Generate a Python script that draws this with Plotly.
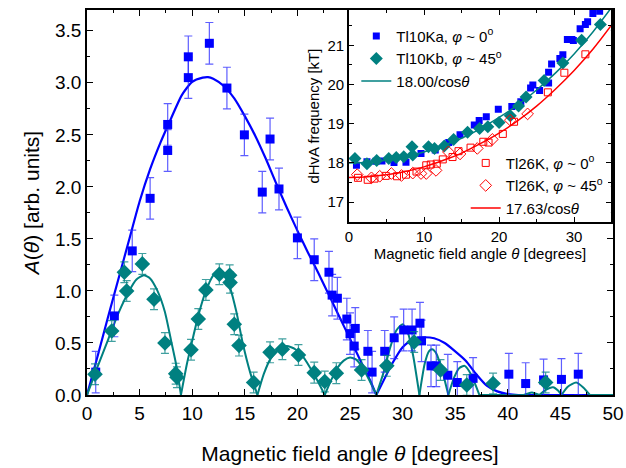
import plotly.graph_objects as go

# ---------------- main panel data ----------------
blue_theta = [0.83, 2.6, 4.3, 6.0, 7.67, 7.67, 9.63, 9.63, 11.63, 13.3, 14.96, 16.66, 17.4, 18.25,
              20.0, 21.6, 23.0, 23.3, 23.8, 24.7, 25.0, 25.4, 25.5, 26.7, 27.1, 28.3, 29.2, 30.1,
              30.9, 31.65, 31.8, 32.7, 33.2, 34.3, 35.2, 36.7, 40.1, 41.7, 43.4, 45.1, 46.7]
blue_A = [0.22, 0.76, 1.385, 1.89, 2.60, 2.35, 3.25, 3.05, 3.38, 2.95, 2.50, 1.95, 2.46, 1.98,
          1.51, 1.30, 1.18, 0.96, 0.93, 0.73, 0.59, 0.47, 0.64, 0.42, 0.22, 0.42, 0.55, 0.625,
          0.625, 0.69, 0.52, 0.28, 0.28, 0.19, 0.12, 0.16, 0.20, 0.11, 0.145, 0.15, 0.20]
blue_err = [0.2] * len(blue_theta)

teal_theta = [0.76, 2.35, 3.55, 3.77, 5.26, 6.37, 7.41, 8.43, 8.55, 9.89, 10.58, 11.3, 12.58,
              13.56, 13.6, 14.0, 14.45, 15.84, 17.4, 18.57, 20.1, 21.6, 22.6, 23.7, 26.1, 28.5,
              31.1, 33.6, 36.1, 38.6, 43.6]
teal_A = [0.20, 0.615, 1.18, 1.0, 1.26, 0.92, 0.50, 0.205, 0.17, 0.435, 0.73, 1.01, 1.16,
          1.15, 1.08, 0.68, 0.475, 0.12, 0.41, 0.44, 0.385, 0.215, 0.13, 0.21, 0.24, 0.28,
          0.51, 0.24, 0.096, 0.11, 0.12]
teal_err = [0.1] * len(teal_theta)

# fitted curves (None separates the lobes)
blue_fit_theta = [0, 1, 2, 3, 4, 5, 6, 7, 8, 9, 10, 11, 11.5, 12, 13, 14, 15, 16, 17, 18, 19, 20,
                  21, 22, 23, 24, 25, 26, 27, 27.5, None,
                  27.5, 28, 29, 30, 31, 32, 33, 34, 35, 36, 37, 38, 39, 40, 41, 42, 50]
blue_fit_A = [0, 0.37, 0.75, 1.12, 1.49, 1.86, 2.17, 2.43, 2.66, 2.88, 3.01, 3.05, 3.055, 3.04,
              2.97, 2.85, 2.68, 2.49, 2.27, 2.03, 1.80, 1.58, 1.37, 1.17, 0.96, 0.75, 0.54,
              0.33, 0.12, 0.0, None,
              0.0, 0.10, 0.30, 0.46, 0.54, 0.555, 0.545, 0.50, 0.42, 0.33, 0.20, 0.09, 0.035,
              0.01, 0.0, 0.0, 0.0]

teal_fit_theta = [0, 1, 2, 3, 4, 4.7, 5.4, 6, 6.7, 7.4, 8, 8.5, 8.93, None,
                  8.93, 9.5, 10, 10.6, 11.3, 12, 12.4, 13, 13.6, 14.2, 14.8, 15.5, 16.2, None,
                  16.2, 16.8, 17.4, 18.2, 19, 19.8, 20.6, 21.4, 22, 22.6, None,
                  22.6, 23.2, 23.8, 24.4, 25, 25.6, 26.2, 26.9, 27.5, None,
                  27.5, 28.2, 28.8, 29.4, 30, 30.5, 31, 31.6, None,
                  31.6, 32.1, 32.5, 32.8, 33.2, 33.8, 34.35, None,
                  34.35, 34.9, 35.4, 35.9, 36.5, 37.3, None,
                  37.3, 38, 40, 41.5, 42.3, 43.0, None,
                  43.0, 43.6, 44.3, 44.8, 45.1, None,
                  45.1, 45.7, 46.5, 47.2, 47.8, None,
                  47.8, 50]
teal_fit_A = [0, 0.27, 0.53, 0.79, 1.0, 1.11, 1.15, 1.12, 1.0, 0.8, 0.52, 0.28, 0, None,
              0, 0.3, 0.52, 0.77, 1.0, 1.15, 1.185, 1.15, 1.03, 0.8, 0.5, 0.22, 0, None,
              0, 0.2, 0.34, 0.44, 0.47, 0.44, 0.36, 0.23, 0.12, 0, None,
              0, 0.14, 0.26, 0.33, 0.36, 0.34, 0.26, 0.13, 0, None,
              0, 0.22, 0.45, 0.62, 0.68, 0.6, 0.38, 0, None,
              0, 0.3, 0.42, 0.44, 0.4, 0.22, 0, None,
              0, 0.17, 0.26, 0.28, 0.2, 0, None,
              0, 0.0, 0.0, 0.0, 0.025, 0, None,
              0, 0.05, 0.075, 0.04, 0, None,
              0, 0.08, 0.12, 0.07, 0, None,
              0, 0]

# ---------------- inset data ----------------
ka_theta = [1.0, 2.4, 3.6, 4.4, 6.0, 7.6, 9.6, 11.5, 13.3, 14.8, 16.7, 17.35, 18.3, 19.9, 21.7,
            22.9, 24.2, 24.5, 25.4, 26.6, 26.6, 27.0, 28.1, 28.5, 29.1, 29.7, 29.9, 30.8, 31.5,
            31.8, 32.5, 33.4]
ka_F = [17.94, 18.03, 18.04, 18.05, 18.01, 18.02, 18.24, 18.33, 18.52, 18.72, 18.97, 19.08,
        19.18, 19.37, 19.44, 19.56, 19.91, 19.99, 19.85, 20.04, 20.31, 20.52, 20.66, 20.76,
        21.15, 21.15, 21.12, 21.42, 21.53, 21.6, 21.81, 21.87]

kb_theta = [0.8, 2.4, 3.7, 5.3, 6.3, 7.3, 8.4, 8.5, 10.6, 11.4, 12.7, 13.95, 15.8, 17.4, 18.5,
            20.0, 21.5, 22.6, 23.6, 26.0, 28.5, 31.0, 33.5]
kb_F = [18.11, 17.98, 18.06, 18.11, 18.14, 18.16, 18.41, 18.2, 18.41, 18.37, 18.43, 18.6,
        18.78, 18.88, 18.92, 19.03, 19.2, 19.45, 19.68, 20.1, 20.55, 21.13, 21.53]

k26a_theta = [1.2, 2.5, 3.4, 4.9, 6.4, 7.6, 9.0, 10.3, 10.9, 11.7, 12.5, 13.8, 14.6, 16.2, 17.9,
              18.6, 20.5, 22.0, 26.5, 28.7, 31.5]
k26a_F = [17.62, 17.57, 17.6, 17.67, 17.66, 17.7, 17.78, 17.94, 17.96, 17.98, 18.09, 18.15,
          18.3, 18.39, 18.54, 18.52, 18.74, 19.05, 19.8, 20.3, 20.77]

k26b_theta = [1.1, 3.0, 4.1, 5.65, 7.0, 8.5, 9.6, 10.3, 11.6, 13.25, 14.8, 17.1, 19.1, 21.5, 23.8]
k26b_F = [17.7, 17.62, 17.66, 17.73, 17.68, 17.74, 17.73, 17.73, 17.81, 18.28, 18.23, 18.37,
          18.6, 19.09, 19.25]

fit_theta = [0, 2.5, 5, 7.5, 10, 12.5, 15, 17.5, 20, 22.5, 25, 27.5, 30, 32.5, 35]
fit18_F = [18.00, 18.02, 18.07, 18.16, 18.28, 18.44, 18.63, 18.87, 19.16, 19.48, 19.86, 20.29,
           20.78, 21.34, 21.97]
fit1763_F = [17.63, 17.65, 17.70, 17.78, 17.90, 18.06, 18.25, 18.49, 18.76, 19.08, 19.45,
             19.88, 20.36, 20.90, 21.52]

legend_names = ["Tl10Ka, <i>φ</i> ~ 0<sup>o</sup>", "Tl10Kb, <i>φ</i> ~ 45<sup>o</sup>",
                "18.00/cos<i>θ</i>", "Tl26K, <i>φ</i> ~ 0<sup>o</sup>",
                "Tl26K, <i>φ</i> ~ 45<sup>o</sup>", "17.63/cos<i>θ</i>"]

BLUE = "#0000ff"
TEAL = "#008080"
RED = "#ff0000"
FONT = "Liberation Sans, Arial, sans-serif"

fig = go.Figure()

# main panel
fig.add_trace(go.Scatter(x=blue_fit_theta, y=blue_fit_A, mode="lines", line=dict(color=BLUE, width=2.2, shape="spline", smoothing=0.6),
                         showlegend=False, connectgaps=False, hoverinfo="skip"))
fig.add_trace(go.Scatter(x=teal_fit_theta, y=teal_fit_A, mode="lines", line=dict(color=TEAL, width=2, shape="spline", smoothing=0.6),
                         showlegend=False, connectgaps=False, hoverinfo="skip"))
fig.add_trace(go.Scatter(x=blue_theta, y=blue_A, mode="markers",
                         marker=dict(symbol="square", size=9, color=BLUE),
                         error_y=dict(type="data", array=blue_err, color="rgba(40,40,255,0.75)", thickness=1.2, width=4),
                         showlegend=False))
fig.add_trace(go.Scatter(x=teal_theta, y=teal_A, mode="markers",
                         marker=dict(symbol="diamond", size=12, color=TEAL),
                         error_y=dict(type="data", array=teal_err, color="rgba(0,128,128,0.75)", thickness=1.2, width=4),
                         showlegend=False))

# inset
fig.add_trace(go.Scatter(x=ka_theta, y=ka_F, mode="markers", xaxis="x2", yaxis="y2",
                         marker=dict(symbol="square", size=7, color=BLUE),
                         name=legend_names[0], legend="legend"))
fig.add_trace(go.Scatter(x=kb_theta, y=kb_F, mode="markers", xaxis="x2", yaxis="y2",
                         marker=dict(symbol="diamond", size=10, color=TEAL),
                         name=legend_names[1], legend="legend"))
fig.add_trace(go.Scatter(x=fit_theta, y=fit18_F, mode="lines", xaxis="x2", yaxis="y2",
                         line=dict(color=TEAL, width=1.5, shape="spline"),
                         name=legend_names[2], legend="legend"))
fig.add_trace(go.Scatter(x=k26a_theta, y=k26a_F, mode="markers", xaxis="x2", yaxis="y2",
                         marker=dict(symbol="square-open", size=7, color=RED, line=dict(width=1)),
                         name=legend_names[3], legend="legend2"))
fig.add_trace(go.Scatter(x=k26b_theta, y=k26b_F, mode="markers", xaxis="x2", yaxis="y2",
                         marker=dict(symbol="diamond-open", size=9, color=RED, line=dict(width=1)),
                         name=legend_names[4], legend="legend2"))
fig.add_trace(go.Scatter(x=fit_theta, y=fit1763_F, mode="lines", xaxis="x2", yaxis="y2",
                         line=dict(color=RED, width=1.5, shape="spline"),
                         name=legend_names[5], legend="legend2"))

axis_common = dict(showline=True, linecolor="black", linewidth=1.5, mirror="allticks",
                   ticks="inside", tickcolor="black", showgrid=False, zeroline=False)

fig.update_layout(
    width=626, height=468,
    margin=dict(l=87, r=13, t=10, b=73, autoexpand=False),
    paper_bgcolor="white", plot_bgcolor="white",
    font=dict(family=FONT, color="black"),
    xaxis=dict(**axis_common, range=[0, 50], dtick=5, tick0=0, ticklen=6, tickwidth=1.3,
               minor=dict(dtick=2.5, ticklen=3, ticks="inside", tickcolor="black"),
               tickfont=dict(size=19), ticklabeloverflow="allow",
               title=dict(text="Magnetic field angle <i>θ</i> [degrees]", font=dict(size=21), standoff=24),
               domain=[0, 1]),
    yaxis=dict(**axis_common, range=[0, 3.7], dtick=0.5, tick0=0, ticklen=6, tickwidth=1.3,
               tickformat=".1f",
               minor=dict(dtick=0.25, ticklen=3, ticks="inside", tickcolor="black"),
               tickfont=dict(size=19),
               title=dict(text="<i>A</i>(<i>θ</i>) [arb. units]", font=dict(size=21), standoff=10),
               domain=[0, 1]),
    xaxis2=dict(**axis_common, range=[0, 34.9], dtick=10, tick0=0, ticklen=5, tickwidth=1.2,
                minor=dict(dtick=5, ticklen=3, ticks="inside", tickcolor="black"),
                tickfont=dict(size=15), anchor="y2",
                title=dict(text="Magnetic field angle <i>θ</i> [degrees]", font=dict(size=15), standoff=2),
                domain=[0.498, 0.996]),
    yaxis2=dict(**axis_common, range=[16.49, 21.9], dtick=1, tick0=17, ticklen=5, tickwidth=1.2,
                minor=dict(dtick=0.5, ticklen=3, ticks="inside", tickcolor="black"),
                tickfont=dict(size=15), anchor="x2",
                title=dict(text="dHvA frequency [kT]", font=dict(size=15), standoff=4),
                domain=[0.449, 1.0]),
    legend=dict(x=0.512, y=0.975, xanchor="left", yanchor="top", bgcolor="rgba(0,0,0,0)",
                font=dict(size=15), tracegroupgap=0, itemwidth=30),
    legend2=dict(x=0.72, y=0.645, xanchor="left", yanchor="top", bgcolor="rgba(0,0,0,0)",
                 font=dict(size=15), tracegroupgap=0, itemwidth=30),
    hovermode=False,
)

fig.write_html("out.html", config={"displayModeBar": False},
               post_script="document.body.style.margin='0';document.body.style.padding='0';")
